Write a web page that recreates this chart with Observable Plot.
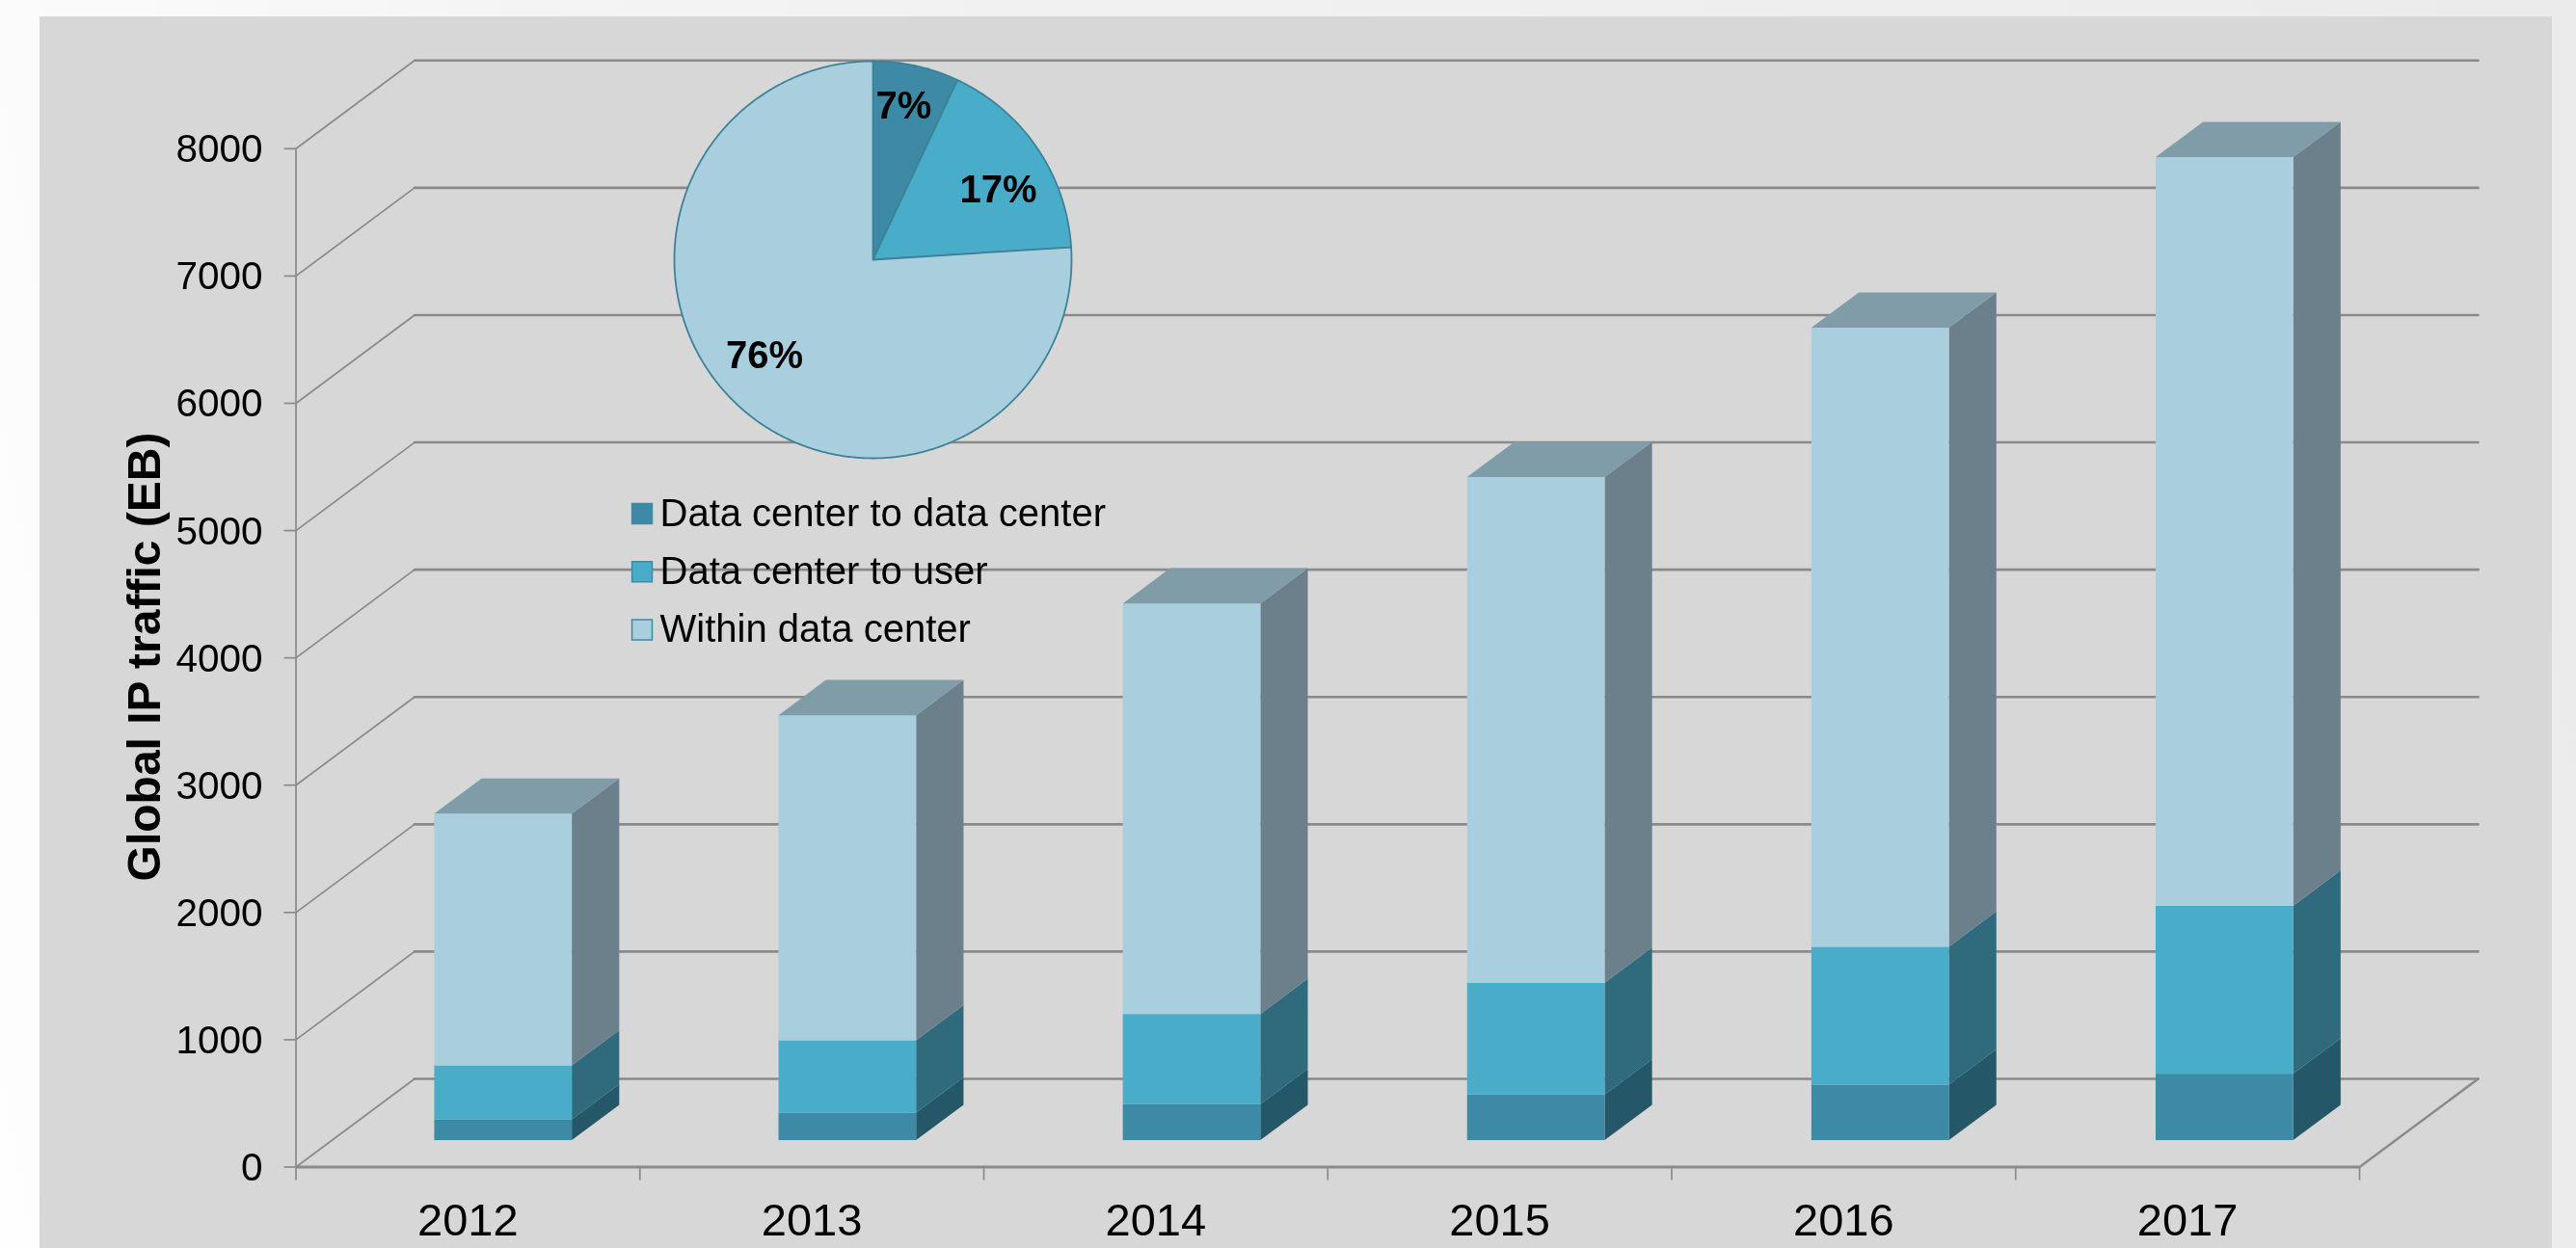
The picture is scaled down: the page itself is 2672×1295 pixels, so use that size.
<!DOCTYPE html>
<html><head><meta charset="utf-8">
<style>
html,body{margin:0;padding:0;width:2672px;height:1295px;overflow:hidden;
  background:linear-gradient(80deg,#fefefe 0%,#f3f3f3 30%,#ebebeb 100%);}
#panel{position:absolute;left:41px;top:17px;width:2606px;height:1278px;background:#d7d7d7;}
#chart{position:absolute;left:0;top:0;filter:blur(0.6px);}
svg{display:block;}
</style>
<script src="https://cdn.jsdelivr.net/npm/d3@7"></script>
<script src="https://cdn.jsdelivr.net/npm/@observablehq/plot@0.6"></script>
</head><body>
<div id="panel"></div><div id="chart"></div>
<script>
const years = ["2012","2013","2014","2015","2016","2017"];
const dcToDc   = [163, 216, 282, 358, 436, 522];
const dcToUser = [424, 568, 709, 878, 1083, 1319];
const withinDc = [1978, 2554, 3225, 3973, 4863, 5881];
const yTicks = [0,1000,2000,3000,4000,5000,6000,7000,8000];
const seriesNames = ["Data center to data center","Data center to user","Within data center"];
const seriesValues = [dcToDc, dcToUser, withinDc];
const frontColors = ["#3c8aa5","#49acc9","#a9cede"];
const sideColors  = ["#245868","#2f6b7d","#6b808b"];
const topColor = "#7f9ca8";
const pieShares = [7, 17, 76];

// frame geometry of the plot
const W = 2672, H = 1295, mL = 306.5, mR = 225, mT = 153.8, mB = 84.5;
const pxCat = (W - mL - mR) / years.length, pxVal = (H - mT - mB) / 8000;
const X = px => (px - mL) / pxCat, Y = py => (H - mB - py) / pxVal;
// 3-D depth of the chart box, in data units
const depthX = 123 / pxCat, depthY = 91.5 / pxVal;

// bars
const barPitch = 1.001;
const segs = [];
years.forEach((yr, i) => {
  let base = 0;
  seriesValues.forEach((vals, s) => {
    segs.push({i: i * barPitch, s, y0: base, y1: base + vals[i]});
    base += vals[i];
  });
});
const bx0 = .3, bx1 = .7, bz0 = .3, bz1 = .7;
const sideRows = segs.flatMap((d, id) => [bz0, bz1].map(z => ({
  id, s: d.s, x: d.i + bx1 + z * depthX, y1: d.y0 + z * depthY, y2: d.y1 + z * depthY })));
const topRows = segs.filter(d => d.s === 2).flatMap(d => [bz0, bz1].map(z => ({
  id: d.i, y: d.y1 + z * depthY, x1: d.i + bx0 + z * depthX, x2: d.i + bx1 + z * depthX })));

// walls
const diagRows = yTicks.flatMap(t => [{k: t, x: 0, y: t}, {k: t, x: depthX, y: t + depthY}]);
const backRows = yTicks.flatMap(t => [{k: t, x: depthX, y: t + depthY}, {k: t, x: 6 + depthX, y: t + depthY}]);
const floorEdge = [{x: 6, y: 0}, {x: 6 + depthX, y: depthY}];

// pie
const pieC = {x: 905, y: 269, r: 206};
const cumul = d3.cumsum(pieShares);
const piePoint = (deg, r = 1) => ({
  x: X(pieC.x + r * pieC.r * Math.sin(deg * Math.PI / 180)),
  y: Y(pieC.y - r * pieC.r * Math.cos(deg * Math.PI / 180)) });
const pieRows = pieShares.map((p, s) => {
  const a0 = (cumul[s] - p) * 3.6, a1 = cumul[s] * 3.6;
  const pts = [piePoint(0, 0)];
  for (let a = a0; a < a1; a += .5) pts.push(piePoint(a));
  pts.push(piePoint(a1), piePoint(0, 0));
  return pts;
});
const pieLabels = [
  {t: "7%",  x: X(937), y: Y(110)},
  {t: "17%", x: X(1035), y: Y(197)},
  {t: "76%", x: X(792.5), y: Y(369)}];

// legend
const legendRows = seriesNames.map((name, s) => ({
  name, s, xs: X(665.5), xt: X(684), y: Y([532.5, 592.8, 653][s]) }));

const gridColor = "#8a8a8a";
const marks = [
  Plot.line(diagRows, {x: "x", y: "y", z: "k", stroke: gridColor, strokeWidth: 1.7}),
  Plot.line(backRows, {x: "x", y: "y", z: "k", stroke: gridColor, strokeWidth: 2.6}),
  Plot.line(floorEdge, {x: "x", y: "y", stroke: gridColor, strokeWidth: 2.5}),
  Plot.ruleY([0], {x1: 0, x2: 6, stroke: gridColor, strokeWidth: 3}),
  Plot.ruleX([0], {y1: 0, y2: 8000, stroke: gridColor, strokeWidth: 1.7}),
  Plot.axisY({ticks: yTicks, label: null, tickSize: 12, fill: "none", stroke: gridColor, strokeWidth: 1.7}),
  Plot.axisY({ticks: yTicks, tickFormat: d => String(d), label: null, tickSize: 0, tickPadding: 34.5, dy: 1,
    fill: "#000", fontSize: 40.5}),
  Plot.axisX({ticks: d3.range(0, 7), label: null, tickSize: 14, fill: "none", stroke: gridColor, strokeWidth: 1.7}),
  Plot.axisX({ticks: years.map((y, i) => i + .5), tickFormat: v => years[Math.floor(v)], label: null,
    tickSize: 0, tickPadding: 38, fill: "#000", fontSize: 47}),
  Plot.text(["Global IP traffic (EB)"], {x: X(150), y: Y(681), text: d => d, rotate: -90,
    fontSize: 48, fontWeight: 700, fill: "#000"}),
];
seriesNames.forEach((n, s) => {
  marks.push(Plot.areaY(sideRows.filter(d => d.s === s), {x: "x", y1: "y1", y2: "y2", z: "id", fill: sideColors[s]}));
  marks.push(Plot.rect(segs.filter(d => d.s === s), {
    x1: d => d.i + bx0 + bz0 * depthX, x2: d => d.i + bx1 + bz0 * depthX,
    y1: d => d.y0 + bz0 * depthY, y2: d => d.y1 + bz0 * depthY, fill: frontColors[s]}));
});
marks.push(Plot.areaX(topRows, {y: "y", x1: "x1", x2: "x2", z: "id", fill: topColor}));
// pie
pieRows.forEach((pts, s) => marks.push(
  Plot.line(pts, {x: "x", y: "y", fill: frontColors[s], stroke: "#3d8299", strokeWidth: 1.8, strokeLinejoin: "round"})));
marks.push(Plot.text(pieLabels, {x: "x", y: "y", text: "t", fontSize: 40, fontWeight: 700, fill: "#000"}));
// legend
seriesNames.forEach((n, s) => {
  marks.push(Plot.dot(legendRows.filter(d => d.s === s), {x: "xs", y: "y", symbol: "square", r: 11.8,
    fill: frontColors[s], stroke: "#3f8ba5", strokeWidth: 1.5}));
});
marks.push(Plot.text(legendRows, {x: "xt", y: "y", text: "name", textAnchor: "start", fontSize: 40, fill: "#000"}));

const chart = Plot.plot({
  width: W, height: H, marginLeft: mL, marginRight: mR, marginTop: mT, marginBottom: mB,
  x: {domain: [0, 6]}, y: {domain: [0, 8000]},
  style: {background: "transparent", fontFamily: "'Liberation Sans', Arial, sans-serif", overflow: "visible"},
  marks
});
document.getElementById("chart").appendChild(chart);
</script>
</body></html>
